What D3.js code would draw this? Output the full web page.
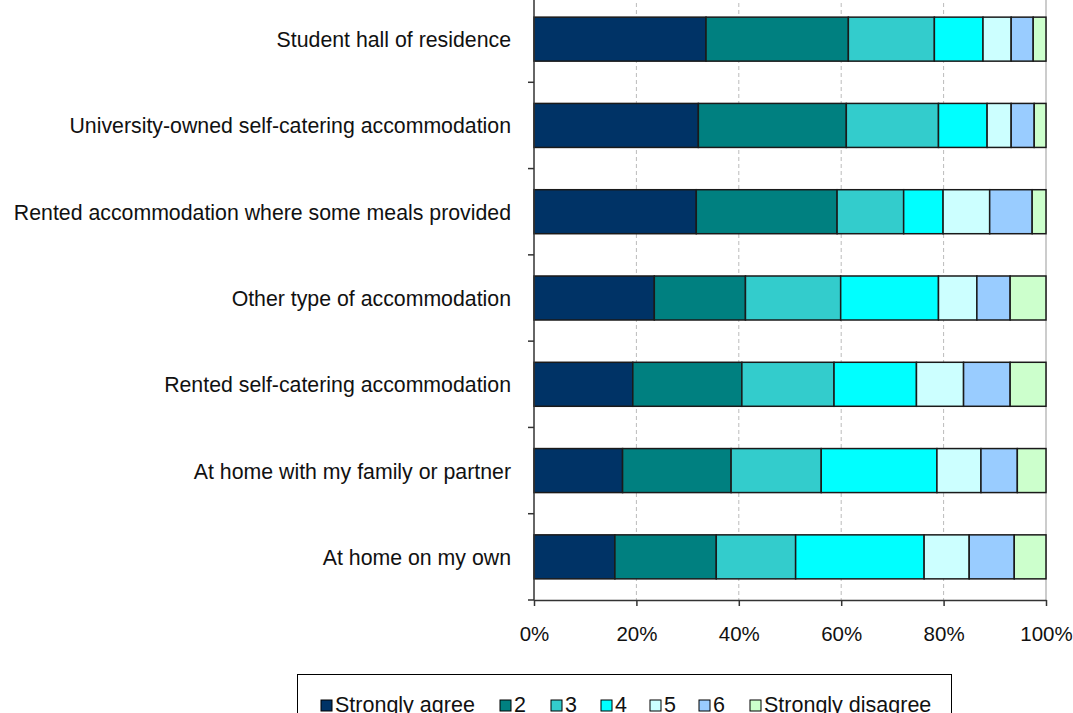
<!DOCTYPE html>
<html><head><meta charset="utf-8">
<script src="https://cdn.jsdelivr.net/npm/d3@7"></script>
<style>html,body{margin:0;padding:0;background:#fff;overflow:hidden}</style>
</head><body>
<svg id="c" width="1073" height="713"></svg>
<script>
const categories = [
  "Student hall of residence",
  "University-owned self-catering accommodation",
  "Rented accommodation where some meals provided",
  "Other type of accommodation",
  "Rented self-catering accommodation",
  "At home with my family or partner",
  "At home on my own"
];
const seriesNames = ["Strongly agree","2","3","4","5","6","Strongly disagree"];
const seriesColors = ["#003366","#008080","#33CCCC","#00FFFF","#CCFFFF","#99CCFF","#CCFFCC"];
const stronglyAgree    = [33.6, 32.1, 31.7, 23.5, 19.3, 17.3, 15.8];
const two              = [27.8, 28.9, 27.5, 17.8, 21.3, 21.2, 19.8];
const three            = [16.8, 18.0, 13.0, 18.6, 18.0, 17.6, 15.5];
const four             = [ 9.5,  9.5,  7.7, 19.1, 16.1, 22.6, 25.1];
const five             = [ 5.5,  4.7,  9.1,  7.5,  9.2,  8.6,  8.8];
const six              = [ 4.3,  4.5,  8.3,  6.5,  9.1,  7.1,  8.8];
const stronglyDisagree = [ 2.5,  2.3,  2.7,  7.0,  7.0,  5.6,  6.2];
const tickValues = [0, 0.2, 0.4, 0.6, 0.8, 1.0];

const seriesValues = [stronglyAgree, two, three, four, five, six, stronglyDisagree];
const rows = categories.map((c, i) => {
  const o = {cat: c};
  seriesNames.forEach((s, j) => o[s] = seriesValues[j][i]);
  const tot = seriesNames.reduce((a, s) => a + o[s], 0);
  seriesNames.forEach(s => o[s] = o[s] / tot);
  return o;
});
const stacked = d3.stack().keys(seriesNames)(rows);

const svg = d3.select("#c");
const font = "'Liberation Sans', Arial, sans-serif";
const x = d3.scaleLinear().domain([0, 1]).range([534, 1046]);
const y = d3.scaleBand().domain(categories).range([-4, 600]).paddingInner(0.49).paddingOuter(0.245);

// gridlines
svg.append("g").selectAll("line").data(tickValues.filter(v => v > 0)).join("line")
  .attr("x1", d => x(d)).attr("x2", d => x(d))
  .attr("y1", -4).attr("y2", 600)
  .attr("stroke", d => d === 1 ? "#999" : "#bbb")
  .attr("stroke-width", 1)
  .attr("stroke-dasharray", d => d === 1 ? null : "4,3");

// bars
svg.append("g").selectAll("g").data(stacked).join("g")
  .attr("fill", (d, i) => seriesColors[i])
  .selectAll("rect").data(d => d).join("rect")
  .attr("x", d => x(d[0]))
  .attr("width", d => x(d[1]) - x(d[0]))
  .attr("y", d => y(d.data.cat))
  .attr("height", y.bandwidth())
  .attr("stroke", "#1a1a1a").attr("stroke-width", 1.5);

// y axis
const yBounds = d3.range(categories.length + 1).map(i => -4 + i * (604 / categories.length));
svg.append("line").attr("x1", 534).attr("x2", 534).attr("y1", -4).attr("y2", 600)
  .attr("stroke", "#333").attr("stroke-width", 1.5);
svg.append("g").selectAll("line").data(yBounds).join("line")
  .attr("x1", 528).attr("x2", 534).attr("y1", d => d).attr("y2", d => d)
  .attr("stroke", "#333").attr("stroke-width", 1.5);
svg.append("g").selectAll("text").data(categories).join("text")
  .attr("x", 511).attr("y", d => y(d) + y.bandwidth() / 2 + 1)
  .attr("text-anchor", "end").attr("dominant-baseline", "central")
  .attr("font-family", font).attr("font-size", 21.3).attr("fill", "#111")
  .text(d => d);

// x axis
const xAxis = d3.axisBottom(x).tickValues(tickValues).tickFormat(d3.format(".0%")).tickSize(6).tickSizeOuter(0).tickPadding(20);
const gx = svg.append("g").attr("transform", "translate(0,600)").call(xAxis);
gx.select(".domain").attr("stroke", "#333").attr("stroke-width", 1.5);
gx.selectAll(".tick line").attr("stroke", "#333").attr("stroke-width", 1.5);
gx.selectAll(".tick text").attr("font-family", font).attr("font-size", 20.5).attr("fill", "#111");

// legend
svg.append("rect").attr("x", 297.5).attr("y", 674.5).attr("width", 654).attr("height", 60)
  .attr("fill", "#fff").attr("stroke", "#000").attr("stroke-width", 1);
const legX = [321, 500, 551, 601, 650, 699, 750];
const lg = svg.append("g").selectAll("g").data(seriesNames).join("g")
  .attr("transform", (d, i) => `translate(${legX[i]},705)`);
lg.append("rect").attr("x", 0).attr("y", -5).attr("width", 11).attr("height", 11)
  .attr("fill", (d, i) => seriesColors[i]).attr("stroke", "#000").attr("stroke-width", 1);
lg.append("text").attr("x", 14).attr("y", 0).attr("dominant-baseline", "central")
  .attr("font-family", font).attr("font-size", 21.5).attr("fill", "#111").text(d => d);
</script>
</body></html>
